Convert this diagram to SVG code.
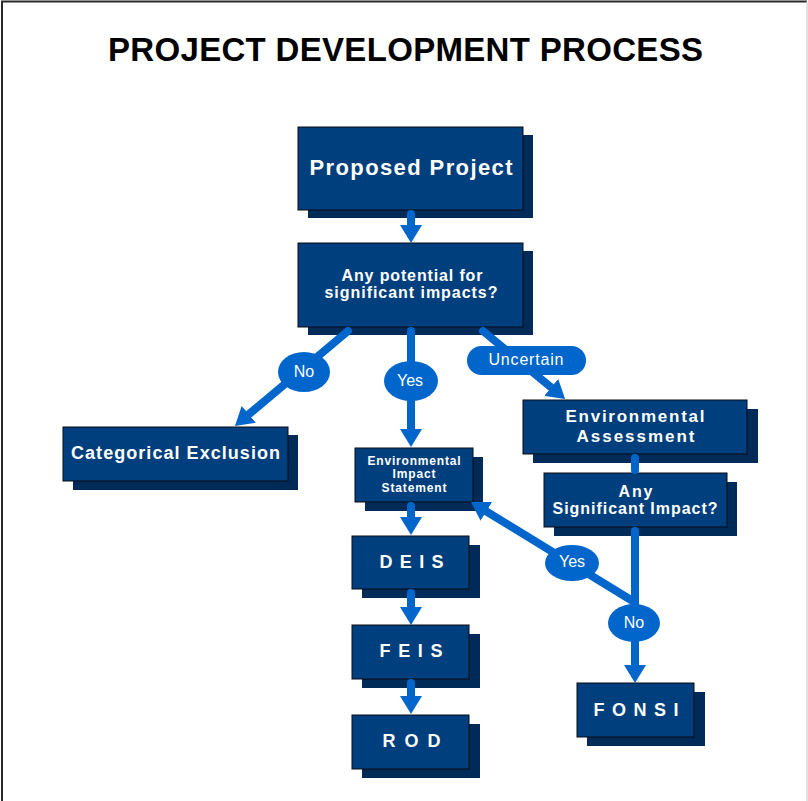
<svg xmlns="http://www.w3.org/2000/svg" width="808" height="801" viewBox="0 0 808 801">
<style>
.sh{fill:#002a57}
.bx{fill:#003f7d;stroke:#0a0a14;stroke-width:1}
.t{fill:#fff;font-family:"Liberation Sans",Arial,sans-serif;font-weight:bold;text-anchor:middle}
.c{stroke:#0066cc;stroke-width:8;stroke-linecap:round;fill:none}
.lb{fill:#0066cc}
.lt{fill:#fff;font-family:"Liberation Sans",Arial,sans-serif;font-size:16px;text-anchor:middle}
</style>
<defs>
<marker id="ah" viewBox="0 0 18 22" refX="4" refY="11" markerWidth="18" markerHeight="22" markerUnits="userSpaceOnUse" orient="auto">
<path d="M0,0 L18,11 L0,22 z" fill="#0066cc"/>
</marker>
</defs>
<rect width="808" height="801" fill="#fff"/>
<path d="M2,801 V1.5 H807" fill="none" stroke="#2a2a2a" stroke-width="2"/>
<path d="M807,1.5 V801" fill="none" stroke="#d8d8d8" stroke-width="1.5"/>
<text x="405.5" y="61" style="fill:#000;font-family:'Liberation Sans',Arial,sans-serif;font-weight:bold;font-size:33px;text-anchor:middle" textLength="595" lengthAdjust="spacing">PROJECT DEVELOPMENT PROCESS</text>

<g id="proposed">
<rect class="sh" x="308" y="135" width="225" height="83"/>
<rect class="bx" x="298" y="127" width="225" height="83"/>
<text class="t" x="411" y="175" font-size="22" textLength="203" lengthAdjust="spacing">Proposed Project</text>
</g>
<g id="potential">
<rect class="sh" x="308" y="251" width="225" height="84"/>
<rect class="bx" x="298" y="243" width="225" height="84"/>
<text class="t" x="412" y="281" font-size="16" textLength="141" lengthAdjust="spacing">Any potential for</text>
<text class="t" x="411" y="298" font-size="16" textLength="173" lengthAdjust="spacing">significant impacts?</text>
</g>
<g id="catex">
<rect class="sh" x="73" y="435" width="225" height="55"/>
<rect class="bx" x="63" y="427" width="225" height="54"/>
<text class="t" x="175.5" y="459" font-size="18" textLength="209" lengthAdjust="spacing">Categorical Exclusion</text>
</g>
<g id="ea">
<rect class="sh" x="533" y="409" width="225" height="54"/>
<rect class="bx" x="523" y="400" width="224" height="54"/>
<text class="t" x="635" y="422" font-size="17" textLength="139" lengthAdjust="spacing">Environmental</text>
<text class="t" x="635.5" y="442" font-size="17" textLength="118" lengthAdjust="spacing">Assessment</text>
</g>
<g id="asi">
<rect class="sh" x="554" y="482" width="183" height="54"/>
<rect class="bx" x="544" y="473" width="183" height="54"/>
<text class="t" x="635.5" y="497" font-size="16" textLength="34" lengthAdjust="spacing">Any</text>
<text class="t" x="635" y="514" font-size="16" textLength="165" lengthAdjust="spacing">Significant Impact?</text>
</g>
<g id="eis">
<rect class="sh" x="365" y="457" width="118" height="54"/>
<rect class="bx" x="355" y="448" width="118" height="54"/>
<text class="t" x="414" y="465" font-size="12" textLength="93" lengthAdjust="spacing">Environmental</text>
<text class="t" x="414" y="478" font-size="12" textLength="43" lengthAdjust="spacing">Impact</text>
<text class="t" x="414" y="492" font-size="12" textLength="65" lengthAdjust="spacing">Statement</text>
</g>
<g id="deis">
<rect class="sh" x="362" y="545" width="118" height="53"/>
<rect class="bx" x="352" y="536" width="117" height="53"/>
<text class="t" x="411.5" y="568" font-size="18" textLength="64" lengthAdjust="spacing">D E I S</text>
</g>
<g id="feis">
<rect class="sh" x="362" y="634" width="118" height="54"/>
<rect class="bx" x="352" y="625" width="117" height="54"/>
<text class="t" x="411" y="657" font-size="18" textLength="63" lengthAdjust="spacing">F E I S</text>
</g>
<g id="rod">
<rect class="sh" x="362" y="724" width="118" height="54"/>
<rect class="bx" x="352" y="715" width="117" height="54"/>
<text class="t" x="411.5" y="747" font-size="18" textLength="58" lengthAdjust="spacing">R O D</text>
</g>
<g id="fonsi">
<rect class="sh" x="587" y="692" width="118" height="54"/>
<rect class="bx" x="577" y="683" width="117" height="54"/>
<text class="t" x="636" y="716" font-size="18" textLength="85" lengthAdjust="spacing">F O N S I</text>
</g>

<g id="connectors">
<line class="c" x1="411" y1="214" x2="411" y2="229" marker-end="url(#ah)"/>
<line class="c" x1="411" y1="331" x2="411" y2="433" marker-end="url(#ah)"/>
<line class="c" x1="348" y1="331" x2="245.7" y2="416.9" marker-end="url(#ah)"/>
<line class="c" x1="483" y1="331" x2="554.3" y2="390" marker-end="url(#ah)"/>
<line class="c" x1="635" y1="458" x2="635" y2="470"/>
<line class="c" x1="635" y1="531" x2="635" y2="669" marker-end="url(#ah)"/>
<line class="c" x1="631" y1="600" x2="482.9" y2="509.3" marker-end="url(#ah)"/>
<line class="c" x1="411" y1="506" x2="411" y2="521" marker-end="url(#ah)"/>
<line class="c" x1="411" y1="593" x2="411" y2="611" marker-end="url(#ah)"/>
<line class="c" x1="411" y1="683" x2="411" y2="700" marker-end="url(#ah)"/>
<ellipse class="lb" cx="304" cy="372" rx="26" ry="20"/>
<text class="lt" x="304" y="377">No</text>
<ellipse class="lb" cx="411" cy="381" rx="27" ry="20"/>
<text class="lt" x="410" y="386">Yes</text>
<rect class="lb" x="467" y="346" width="119" height="29" rx="14.5"/>
<text class="lt" x="526" y="365" textLength="75" lengthAdjust="spacing">Uncertain</text>
<ellipse class="lb" cx="572" cy="563" rx="27" ry="18"/>
<text class="lt" x="572" y="567">Yes</text>
<ellipse class="lb" cx="634" cy="623" rx="26" ry="19"/>
<text class="lt" x="634" y="628">No</text>
</g>
</svg>
